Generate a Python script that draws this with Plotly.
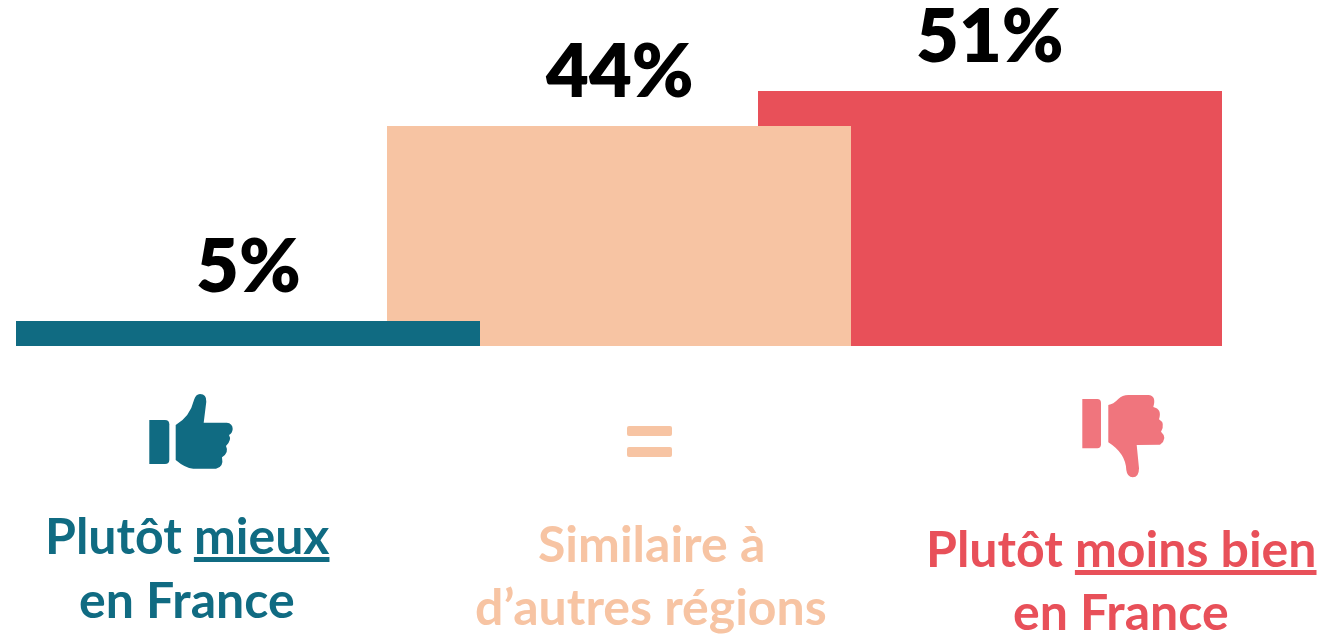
import plotly.graph_objects as go

W, H = 1327, 634

categories = ["Plutôt mieux en France", "Similaire à d’autres régions", "Plutôt moins bien en France"]
values = [5, 44, 51]
value_labels = ["5%", "44%", "51%"]
bar_colors = ["#106B82", "#F7C4A3", "#E85059"]
label_lines = [
    ("Plutôt <u>mieux</u>", "en France"),
    ("Similaire à", "d’autres régions"),
    ("Plutôt <u>moins bien</u>", "en France"),
]
label_centers = [187, 651, 1121]
label_y = [(535, 599), (543, 606), (548, 611)]

FONT = "Lato, Carlito, Calibri, sans-serif"


def P(s):
    """Convert a path in pixel coordinates (x y pairs) to paper coordinates."""
    out, is_x = [], True
    for tok in s.split():
        if tok.isalpha():
            out.append(tok)
            is_x = True
        else:
            v = float(tok)
            out.append(f"{v / W:.5f}" if is_x else f"{1 - v / H:.5f}")
            is_x = not is_x
    return " ".join(out)


def zu(x, y):
    return f"{130 + x / 3:.1f} {380 + y / 3:.1f}"


def zd(x, y):
    return f"{1065 + x / 3:.1f} {385 + y / 3:.1f}"


up_wrist = (f"M {zu(58,120)} L {zu(105,120)} Q {zu(118,120)} {zu(118,133)} L {zu(118,240)} "
            f"Q {zu(118,252)} {zu(105,252)} L {zu(58,252)} Z")
up_hand = (f"M {zu(137,135)} Q {zu(180,110)} {zu(192,60)} Q {zu(197,42)} {zu(210,42)} "
           f"Q {zu(230,42)} {zu(229,65)} L {zu(221,128)} L {zu(290,128)} Q {zu(308,130)} {zu(308,147)} "
           f"Q {zu(307,160)} {zu(297,165)} Q {zu(306,180)} {zu(288,198)} Q {zu(298,218)} {zu(276,232)} "
           f"Q {zu(282,262)} {zu(258,266)} L {zu(190,266)} Q {zu(165,264)} {zu(137,240)} Z")
down_wrist = (f"M {zd(52,42)} L {zd(97,42)} Q {zd(108,42)} {zd(108,54)} L {zd(108,178)} "
              f"Q {zd(108,190)} {zd(97,190)} L {zd(52,190)} Z")
down_hand = (f"M {zd(130,60)} Q {zd(145,58)} {zd(160,42)} Q {zd(172,30)} {zd(190,30)} L {zd(250,30)} "
             f"Q {zd(275,32)} {zd(265,66)} Q {zd(292,72)} {zd(282,103)} Q {zd(302,115)} {zd(288,140)} "
             f"Q {zd(310,160)} {zd(285,179)} L {zd(215,180)} L {zd(222,250)} Q {zd(222,277)} {zd(203,277)} "
             f"Q {zd(187,277)} {zd(184,255)} Q {zd(182,205)} {zd(130,172)} Z")

fig = go.Figure()
# painted right-to-left: the first category sits on top
for i in reversed(range(3)):
    fig.add_trace(go.Bar(x=[i], y=[values[i]], width=464 / 371, marker=dict(color=bar_colors[i], line_width=0),
                         name=categories[i], showlegend=False, hoverinfo="skip"))

annotations = []
for i, (v, t) in enumerate(zip(values, value_labels)):
    annotations.append(dict(x=i, y=v, text=t, showarrow=False, xref="x", yref="y",
                            xanchor="center", yanchor="bottom", yshift=11,
                            font=dict(family=FONT, size=74, color="#000000", weight=800)))
text_colors = ["#106B82", "#F7C4A3", "#E85059"]
for c, ys, lines, col in zip(label_centers, label_y, label_lines, text_colors):
    for y, line in zip(ys, lines):
        annotations.append(dict(x=c / W, y=1 - y / H, text=line, showarrow=False, xref="paper",
                                yref="paper", xanchor="center", yanchor="middle",
                                font=dict(family=FONT, size=50, color=col, weight=700)))

shapes = []
for path, col in [(up_wrist, "#106B82"), (up_hand, "#106B82"),
                  (down_wrist, "#F0757D"), (down_hand, "#F0757D")]:
    shapes.append(dict(type="path", xref="paper", yref="paper", path=P(path),
                       fillcolor=col, line_width=0, layer="above"))
for y0, y1 in [(426, 436), (447, 457)]:
    shapes.append(dict(type="path", xref="paper", yref="paper", fillcolor="#F7C4A3", line_width=0,
                       path=P(f"M 629 {y0} L 670 {y0} Q 672 {y0} 672 {y0+2} L 672 {y1-2} Q 672 {y1} 670 {y1} "
                              f"L 629 {y1} Q 627 {y1} 627 {y1-2} L 627 {y0+2} Q 627 {y0} 629 {y0} Z")))

fig.update_layout(
    width=W, height=H, autosize=False,
    margin=dict(l=0, r=0, t=0, b=0),
    paper_bgcolor="white", plot_bgcolor="white",
    barmode="overlay",
    xaxis=dict(range=[-248 / 371, (W - 248) / 371], visible=False, fixedrange=True),
    yaxis=dict(range=[-(H - 346) / 5, 346 / 5], visible=False, fixedrange=True),
    annotations=annotations, shapes=shapes,
)
fig.write_html("out.html", config=dict(displayModeBar=False),
               post_script="document.body.style.margin='0';document.body.style.overflow='hidden';")
